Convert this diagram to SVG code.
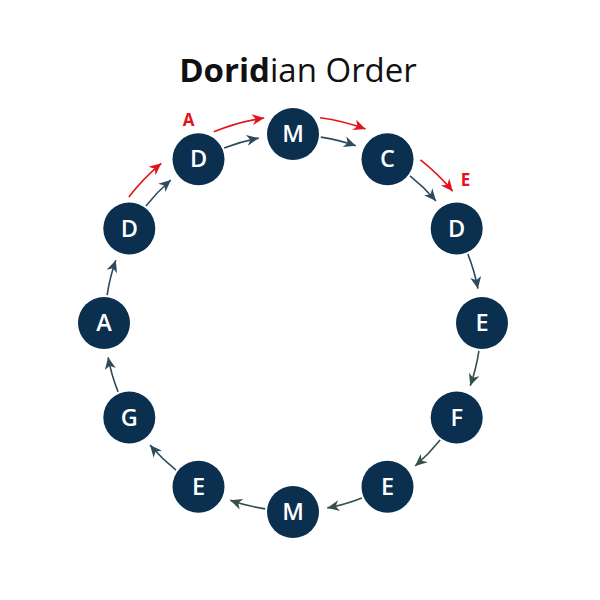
<svg xmlns="http://www.w3.org/2000/svg" width="600" height="600" viewBox="0 0 600 600">
<style>
.node circle{fill:#0b2f4f}
.node text{fill:#fff;font-family:"Open Sans","Noto Sans",sans-serif;font-size:23.5px;font-weight:600;text-anchor:middle}
.c{fill:none;stroke:#2f4a5c;stroke-width:1.6}
.g{fill:none;stroke:#33504b;stroke-width:1.6}
.r{fill:none;stroke:#e3131c;stroke-width:1.6}
.lbl{fill:#e3131c;font-family:"Open Sans","Noto Sans",sans-serif;font-size:17px;font-weight:700;text-anchor:middle}
.title{font-family:"Open Sans","Noto Sans",sans-serif;font-size:33px;fill:#111;text-anchor:middle}
</style>
<defs>
<marker id="ab" markerWidth="14" markerHeight="12" refX="0" refY="0" viewBox="-13 -6 14 12" orient="auto" markerUnits="userSpaceOnUse">
<path d="M0,0 L-12,-5.5 L-8.5,0 L-12,5.5 Z" fill="#2f4a5c"/>
</marker>
<marker id="ag" markerWidth="14" markerHeight="12" refX="0" refY="0" viewBox="-13 -6 14 12" orient="auto" markerUnits="userSpaceOnUse">
<path d="M0,0 L-12,-5.5 L-8.5,0 L-12,5.5 Z" fill="#33504b"/>
</marker>
<marker id="ar" markerWidth="14" markerHeight="12" refX="0" refY="0" viewBox="-13 -6 14 12" orient="auto" markerUnits="userSpaceOnUse">
<path d="M0,0 L-12,-5.5 L-8.5,0 L-12,5.5 Z" fill="#e3131c"/>
</marker>
</defs>
<rect width="600" height="600" fill="#fff"/>
<text class="title" x="298" y="82"><tspan font-weight="700">Dorid</tspan><tspan>ian Order</tspan></text>
<g id="connectors">
<path class="c" marker-end="url(#ab)" d="M320.8,137.1 A188,188 0 0 1 355.8,145.8"/>
<path class="c" marker-end="url(#ab)" d="M410.0,175.9 A188,188 0 0 1 436.0,200.9"/>
<path class="c" marker-end="url(#ab)" d="M467.9,254.1 A188,188 0 0 1 477.9,288.7"/>
<path class="g" marker-end="url(#ag)" d="M478.9,350.8 A188,188 0 0 1 470.2,385.8"/>
<path class="g" marker-end="url(#ag)" d="M440.1,440.0 A188,188 0 0 1 415.1,466.0"/>
<path class="g" marker-end="url(#ag)" d="M361.9,497.9 A188,188 0 0 1 327.3,507.9"/>
<path class="g" marker-end="url(#ag)" d="M265.2,508.9 A188,188 0 0 1 230.2,500.2"/>
<path class="c" marker-end="url(#ab)" d="M176.0,470.1 A188,188 0 0 1 150.0,445.1"/>
<path class="c" marker-end="url(#ab)" d="M118.1,391.9 A188,188 0 0 1 108.1,357.3"/>
<path class="c" marker-end="url(#ab)" d="M107.1,295.2 A188,188 0 0 1 115.8,260.2"/>
<path class="c" marker-end="url(#ab)" d="M145.9,206.0 A188,188 0 0 1 170.9,180.0"/>
<path class="c" marker-end="url(#ab)" d="M224.1,148.1 A188,188 0 0 1 258.7,138.1"/>
<path class="r" marker-end="url(#ar)" d="M128.8,197.0 A207,207 0 0 1 161.3,163.3"/>
<path class="r" marker-end="url(#ar)" d="M213.8,131.8 A207,207 0 0 1 264.2,118.0"/>
<path class="r" marker-end="url(#ar)" d="M320.0,117.8 A207,207 0 0 1 365.5,129.1"/>
<path class="r" marker-end="url(#ar)" d="M420.4,159.9 A207,207 0 0 1 452.7,191.3"/>
</g>
<text class="lbl" x="188.5" y="126">A</text>
<text class="lbl" x="465.5" y="186">E</text>
<g id="n0" class="node"><circle cx="293" cy="134" r="26"/><text x="293" y="142">M</text></g>
<g id="n1" class="node"><circle cx="387.5" cy="159.3" r="26"/><text x="387.5" y="167.3">C</text></g>
<g id="n2" class="node"><circle cx="456.7" cy="228.5" r="26"/><text x="456.7" y="236.5">D</text></g>
<g id="n3" class="node"><circle cx="482" cy="323" r="26"/><text x="482" y="331">E</text></g>
<g id="n4" class="node"><circle cx="456.7" cy="417.5" r="26"/><text x="456.7" y="425.5">F</text></g>
<g id="n5" class="node"><circle cx="387.5" cy="486.7" r="26"/><text x="387.5" y="494.7">E</text></g>
<g id="n6" class="node"><circle cx="293" cy="512" r="26"/><text x="293" y="520">M</text></g>
<g id="n7" class="node"><circle cx="198.5" cy="486.7" r="26"/><text x="198.5" y="494.7">E</text></g>
<g id="n8" class="node"><circle cx="129.3" cy="417.5" r="26"/><text x="129.3" y="425.5">G</text></g>
<g id="n9" class="node"><circle cx="104" cy="323" r="26"/><text x="104" y="331">A</text></g>
<g id="n10" class="node"><circle cx="129.3" cy="228.5" r="26"/><text x="129.3" y="236.5">D</text></g>
<g id="n11" class="node"><circle cx="198.5" cy="159.3" r="26"/><text x="198.5" y="167.3">D</text></g>
</svg>
